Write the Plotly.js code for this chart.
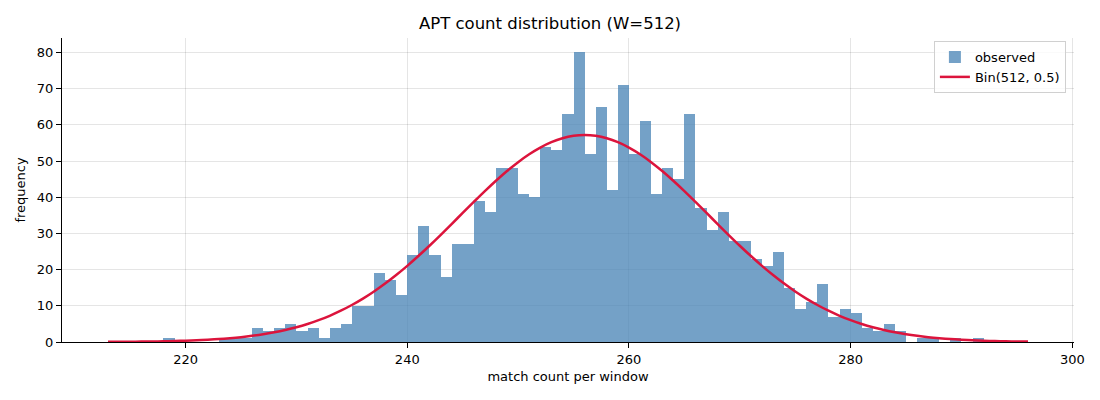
<!DOCTYPE html>
<html>
<head>
<meta charset="utf-8">
<script src="https://cdn.plot.ly/plotly-3.0.1.min.js"></script>
<style>
  html, body { margin: 0; padding: 0; background: #fff; }
  #chart { width: 1100px; height: 400px; }
</style>
</head>
<body>
<div id="chart"></div>
<script>
// observed histogram: left bin edge (width 1) and count
const binStart = [218, 219, 220, 221, 222, 223, 224, 225, 226, 227, 228, 229, 230, 231, 232, 233, 234, 235,
  236, 237, 238, 239, 240, 241, 242, 243, 244, 245, 246, 247, 248, 249, 250, 251, 252, 253, 254, 255,
  256, 257, 258, 259, 260, 261, 262, 263, 264, 265, 266, 267, 268, 269, 270, 271, 272, 273, 274, 275,
  276, 277, 278, 279, 280, 281, 282, 283, 284, 285, 286, 287, 288, 289, 290, 291]
const counts = [1, 0, 0, 0, 0, 1, 1, 1, 4, 3, 4, 5, 3, 4, 1, 4, 5, 10,
  10, 19, 17, 13, 24, 32, 24, 18, 27, 27, 39, 36, 48, 48, 41, 40, 54, 53, 63, 80,
  52, 65, 42, 71, 52, 61, 41, 48, 45, 63, 37, 31, 36, 28, 28, 23, 21, 25, 15, 9,
  11, 16, 7, 9, 8, 4, 3, 5, 3, 0, 1, 1, 0, 1, 0, 1]

// expected curve, one point per match count
const curveX = [213, 214, 215, 216, 217, 218, 219, 220, 221, 222, 223, 224, 225, 226, 227, 228, 229, 230,
  231, 232, 233, 234, 235, 236, 237, 238, 239, 240, 241, 242, 243, 244, 245, 246, 247, 248, 249, 250,
  251, 252, 253, 254, 255, 256, 257, 258, 259, 260, 261, 262, 263, 264, 265, 266, 267, 268, 269, 270,
  271, 272, 273, 274, 275, 276, 277, 278, 279, 280, 281, 282, 283, 284, 285, 286, 287, 288, 289, 290,
  291, 292, 293, 294, 295, 296]
const curveY = [0.04, 0.06, 0.08, 0.11, 0.15, 0.20, 0.27, 0.36, 0.48, 0.63, 0.81, 1.05, 1.34, 1.70, 2.14, 2.68, 3.32, 4.08,
  4.98, 6.03, 7.24, 8.64, 10.22, 11.99, 13.96, 16.13, 18.50, 21.04, 23.75, 26.60, 29.56, 32.59, 35.66, 38.70, 41.69, 44.55, 47.24, 49.70,
  51.88, 53.73, 55.22, 56.31, 56.98, 57.20, 56.98, 56.31, 55.22, 53.73, 51.88, 49.70, 47.24, 44.55, 41.69, 38.70, 35.66, 32.59, 29.56, 26.60,
  23.75, 21.04, 18.50, 16.13, 13.96, 11.99, 10.22, 8.64, 7.24, 6.03, 4.98, 4.08, 3.32, 2.68, 2.14, 1.70, 1.34, 1.05, 0.81, 0.63,
  0.48, 0.36, 0.27, 0.20, 0.15, 0.11]

const xTicks = [220, 240, 260, 280, 300]
const yTicks = [0, 10, 20, 30, 40, 50, 60, 70, 80]

const font = 'DejaVu Sans, sans-serif'

let bars = {
  type: 'bar',
  name: 'observed',
  x: binStart,
  y: counts,
  offset: 0,
  width: 1,
  marker: { color: 'rgba(70,130,180,0.75)', line: { width: 0 } },
  hoverinfo: 'x+y'
}

let curve = {
  type: 'scatter',
  mode: 'lines',
  name: 'Bin(512, 0.5)',
  x: curveX,
  y: curveY,
  line: { color: 'crimson', width: 2.5, shape: 'spline' }
}

let axisCommon = {
  showgrid: true,
  gridcolor: 'rgba(0,0,0,0.1)',
  gridwidth: 1,
  zeroline: false,
  showline: true,
  linecolor: '#000',
  linewidth: 1.2,
  ticks: 'outside',
  ticklen: 5,
  tickwidth: 1,
  tickcolor: '#000',
  tickfont: { family: font, size: 13, color: '#000' }
}

let layout = {
  width: 1100,
  height: 400,
  margin: { l: 62, r: 26, t: 38, b: 58 },
  paper_bgcolor: '#fff',
  plot_bgcolor: '#fff',
  font: { family: font, size: 13, color: '#000' },
  title: {
    text: 'APT count distribution (W=512)',
    font: { family: font, size: 16.5, color: '#000' },
    x: 0.5, xanchor: 'center',
    y: 0.942, yanchor: 'middle'
  },
  bargap: 0,
  showlegend: true,
  legend: {
    x: 0.992, xanchor: 'right',
    y: 0.99, yanchor: 'top',
    bgcolor: 'rgba(255,255,255,0.8)',
    bordercolor: '#d0d0d0',
    borderwidth: 1,
    font: { family: font, size: 13, color: '#000' },
    tracegroupgap: 0
  },
  xaxis: Object.assign({}, axisCommon, {
    range: [208.85, 300.15],
    tickmode: 'array',
    tickvals: xTicks,
    ticktext: xTicks.map(v => v.toString()),
    title: { text: 'match count per window', font: { family: font, size: 13, color: '#000' }, standoff: 6 }
  }),
  yaxis: Object.assign({}, axisCommon, {
    range: [0, 84],
    tickmode: 'array',
    tickvals: yTicks,
    ticktext: yTicks.map(v => v.toString()),
    title: { text: 'frequency', font: { family: font, size: 13, color: '#000' }, standoff: 8 }
  })
}

Plotly.newPlot(document.getElementById('chart'), [bars, curve], layout, { displayModeBar: false, staticPlot: true })
</script>
</body>
</html>
